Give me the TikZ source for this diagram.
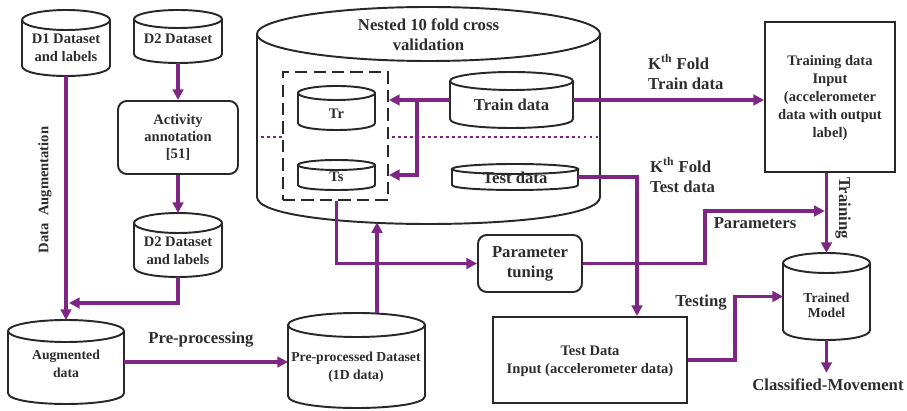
\documentclass[tikz,border=0pt]{standalone}
\usepackage{fontspec}
\setmainfont{Liberation Serif}
\usetikzlibrary{arrows.meta,fit,calc}
\definecolor{pl}{RGB}{126,38,132}
\definecolor{tc}{RGB}{45,45,45}
\definecolor{bc}{RGB}{40,40,40}
\tikzset{
  shapeline/.style={draw=bc, line width=1.1pt},
  boxnode/.style={shapeline, inner sep=0pt},
  flow/.style={draw=pl, line width=2.1pt},
  arr/.style={flow, -{Triangle[length=6pt,width=6pt]}},
  dotline/.style={draw=pl, line width=1.6pt, dash pattern=on 1.6pt off 1.8pt},
  fa/.style={font=\fontsize{7.8}{10}\selectfont\bfseries, text=tc, align=center},
  fb/.style={font=\fontsize{8.3}{10.2}\selectfont\bfseries, text=tc, align=center},
  fc/.style={font=\fontsize{9.5}{11.4}\selectfont\bfseries, text=tc, align=center},
}
% cylinder: name, x1, y1, x2, y2, ry
\newcommand\drum[6]{%
  \pgfmathsetmacro\dcx{(#2+#4)/2}%
  \pgfmathsetmacro\drx{(#4-#2)/2}%
  \pgfmathsetmacro\dyt{#3+#6}%
  \pgfmathsetmacro\dyb{#5-#6}%
  \pgfmathsetmacro\dyc{#5-#6+1.3333*#6}%
  \draw[shapeline, line join=round] (#2,\dyt) -- (#2,\dyb) .. controls (#2,\dyc) and (#4,\dyc) .. (#4,\dyb) -- (#4,\dyt);
  \draw[shapeline] (\dcx,\dyt) ellipse [x radius=\drx, y radius=#6];
  \path (#2,#3) coordinate (#1-a) (#4,#5) coordinate (#1-b);
  \node[fit=(#1-a)(#1-b), inner sep=0pt, outer sep=0pt] (#1) {};
}
\begin{document}
\begin{tikzpicture}[x=0.02cm,y=-0.02cm]
\useasboundingbox (0,0) rectangle (907,411);

% ---------- cylinders ----------
\drum{d1}{22}{10}{110}{76}{10}
\node[fb] (d1t) at (66,48) {D1 Dataset\\and labels};
\drum{d2}{134}{10}{222}{63}{9}
\node[fb] (d2t) at (178,39) {D2 Dataset};
\drum{d2l}{134}{213}{222}{277}{10}
\node[fb] (d2lt) at (178,251) {D2 Dataset\\and labels};
\drum{aug}{8}{320}{124}{404}{11}
\node[fa] (augt) at (66,364) {Augmented\\data};
\drum{pre}{288}{313}{425}{408}{12}
\node[fa] (pret) at (356,367) {Pre-processed Dataset\\(1D data)};
\drum{nest}{257}{7}{600}{224}{27}
\node[fc] (nestt) at (428.5,35) {Nested 10 fold cross\\validation};
\drum{tr}{298}{86}{375}{130}{7}
\node[fb] (trt) at (336.5,114) {Tr};
\drum{ts}{298}{160}{375}{190}{5}
\node[fb] (tst0) at (336.5,177) {Ts};
\drum{trn}{450}{72}{573}{128}{9}
\node[fc] (trnt) at (511.5,105) {Train data};
\drum{tst}{452}{164}{578}{190}{5}
\node[fc] (tstt) at (515,178) {Test data};
\drum{tm}{783}{253}{870}{340}{10}
\node[fa, font=\fontsize{7.8}{8.6}\selectfont\bfseries] (tmt) at (826.5,305) {Trained\\Model};

% ---------- boxes ----------
\node[boxnode, rounded corners=5pt, fit={(118,101)(238,174)}] (act) {};
\node[fb, font=\fontsize{8.3}{9.7}\selectfont\bfseries] (actt) at (act.center) {Activity\\annotation\\{[51]}};
\node[draw=bc, line width=1.1pt, dash pattern=on 7pt off 3.5pt, inner sep=0pt, fit={(283,72)(388,200)}] (dbox) {};
\node[boxnode, fit={(765,22)(895,172)}] (tbox) {};
\node[fb] (tboxt) at (830,98) {Training data\\Input\\(accelerometer\\data with output\\label)};
\node[boxnode, rounded corners=5pt, fit={(478,235)(582,292)}] (ptune) {};
\node[fc] (ptunet) at (ptune.center) {Parameter\\tuning};
\node[boxnode, fit={(493,317)(687,403)}] (testb) {};
\node[fb] (testbt) at (590,361) {Test Data\\Input (accelerometer data)};

% ---------- labels ----------
\node[fb, rotate=90] (dal) at (45,190) {Data\ \ Augmentation};
\node[fc] (ppl) at (201,340) {Pre-processing};
\node[fc, anchor=west, align=left] (k1) at (642,72) {K\textsuperscript{th} Fold\\Train data};
\node[fc, anchor=west, align=left] (k2) at (644,175) {K\textsuperscript{th} Fold\\Test data};
\node[fc] (parl) at (755,223) {Parameters};
\node[fc, rotate=-90] (trnl) at (843,208) {Training};
\node[fc] (testl) at (701,303) {Testing};
\node[fc] (cm) at (828,385) {Classified-Movement};

% ---------- dotted split line ----------
\coordinate (dl1) at (261,137);
\coordinate (dl2) at (598,137);
\draw[dotline] (dl1) -- (dl1 -| dbox.west);
\draw[dotline] ([xshift=2pt]dl1 -| dbox.east) -- (dl2);

% ---------- connectors ----------
\coordinate (mg) at (69,303);
\coordinate (brk) at (417,0);
\coordinate (upx) at (377,0);
\coordinate (tcol) at (637,0);
\coordinate (pk) at (705,211);
\coordinate (tk) at (735,0);

\draw[arr] (d1.south) -- (aug.north);
\draw[arr] (d2.south) -- (act.north);
\draw[arr] (act.south) -- (d2l.north);
\draw[arr] (d2l.south) -- (d2l.south |- mg) -- (mg);
\draw[arr] (aug.east) -- (aug.east -| pre.west);
\draw[arr] (upx |- pre.north) -- ([yshift=1pt]upx |- nest.south);
\draw[arr] (trn.west) -- (trn.west -| dbox.east);
\draw[arr] (trn.west -| brk) -- (brk |- ts) -- (ts -| dbox.east);
\draw[arr] (dbox.south -| ts.south) -- (ts.south |- ptune.west) -- (ptune.west);
\draw[arr] (trn.east) -- (trn.east -| tbox.west);
\draw[arr] (tst.east) -- (tst.east -| tcol) -- (tcol |- testb.north);
\draw[arr] (ptune.east) -- (ptune.east -| pk) -- (pk) -- ([xshift=-1pt]pk -| tm.north);
\draw[arr] (tbox.south -| tm.north) -- (tm.north);
\draw[arr] (testb.east) -- (testb.east -| tk) -- (tk |- tm.west) -- (tm.west);
\draw[arr] (tm.south) -- (tm.south |- cm.north);
\end{tikzpicture}
\end{document}
